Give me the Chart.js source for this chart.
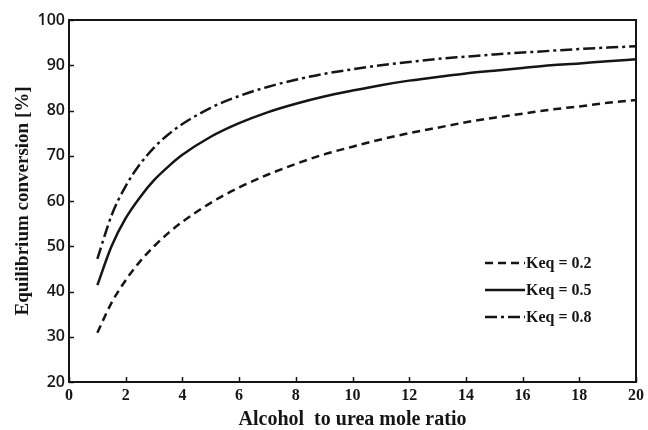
<!DOCTYPE html>
<html>
<head>
<meta charset="utf-8">
<script src="https://cdn.jsdelivr.net/npm/chart.js@4/dist/chart.umd.min.js"></script>
<style>
  html, body { margin: 0; padding: 0; background: #fff; }
  #wrap { width: 648px; height: 430px; }
</style>
</head>
<body>
<div id="wrap"><canvas id="c" width="648" height="430"></canvas></div>
<script>
// Alcohol-to-urea mole ratio (x) and equilibrium conversion in % (y)
const moleRatio = [1, 1.5, 2, 2.5, 3, 3.5, 4, 5, 6, 7, 8, 9, 10, 11, 12, 13, 14, 15, 16, 17, 18, 19, 20];
const convK02 = [30.9, 37.5, 42.5, 46.6, 50.0, 52.9, 55.4, 59.6, 63.0, 65.8, 68.2, 70.3, 72.0, 73.6, 75.0, 76.2, 77.4, 78.4, 79.3, 80.2, 80.9, 81.7, 82.3];
const convK05 = [41.4, 50.0, 56.2, 60.8, 64.6, 67.6, 70.2, 74.2, 77.2, 79.6, 81.5, 83.1, 84.4, 85.6, 86.6, 87.4, 88.2, 88.8, 89.4, 90.0, 90.4, 90.9, 91.3];
const convK08 = [47.2, 56.8, 63.3, 68.1, 71.8, 74.7, 77.0, 80.6, 83.2, 85.2, 86.8, 88.1, 89.1, 90.0, 90.7, 91.4, 91.9, 92.4, 92.8, 93.2, 93.6, 93.9, 94.2];
const seriesLabels = ['Keq = 0.2', 'Keq = 0.5', 'Keq = 0.8'];
const xTickValues = [0, 2, 4, 6, 8, 10, 12, 14, 16, 18, 20];
const yTickValues = [20, 30, 40, 50, 60, 70, 80, 90, 100];
const xTitle = 'Alcohol  to urea mole ratio';
const yTitle = 'Equilibrium conversion [%]';

const INK = '#151515';
const toPoints = (ys) => ys.map((y, i) => ({ x: moleRatio[i], y }));

// Inward tick marks on the bottom and left axes, plus the closed frame
const frameAndTicks = {
  id: 'frameAndTicks',
  afterDraw(chart) {
    const { ctx, chartArea: a, scales: { x, y } } = chart;
    ctx.save();
    ctx.strokeStyle = INK;
    ctx.lineWidth = 1.5;
    x.ticks.forEach(t => {
      const px = Math.round(x.getPixelForValue(t.value)) + 0.5;
      ctx.beginPath(); ctx.moveTo(px, a.bottom); ctx.lineTo(px, a.bottom - 5); ctx.stroke();
    });
    y.ticks.forEach(t => {
      const py = Math.round(y.getPixelForValue(t.value)) + 0.5;
      ctx.beginPath(); ctx.moveTo(a.left, py); ctx.lineTo(a.left + 5, py); ctx.stroke();
    });
    ctx.lineWidth = 2;
    ctx.strokeRect(a.left, a.top, a.right - a.left, a.bottom - a.top);
    ctx.restore();
  }
};

// Legend drawn inside the plot, lower right
const insideLegend = {
  id: 'insideLegend',
  afterDatasetsDraw(chart) {
    const { ctx, chartArea: a } = chart;
    const x0 = a.right - 151, y0 = a.top + 243, step = 27;
    chart.data.datasets.forEach((ds, i) => {
      const yy = y0 + i * step;
      ctx.save();
      ctx.strokeStyle = ds.borderColor;
      ctx.lineWidth = ds.borderWidth;
      ctx.setLineDash(ds.borderDash || []);
      ctx.beginPath(); ctx.moveTo(x0, yy); ctx.lineTo(x0 + 40, yy); ctx.stroke();
      ctx.setLineDash([]);
      ctx.fillStyle = INK;
      ctx.font = 'bold 16px "Liberation Serif"';
      ctx.textBaseline = 'middle';
      ctx.textAlign = 'left';
      ctx.fillText(ds.label, x0 + 41, yy + 1);
      ctx.restore();
    });
  }
};

const lineStyle = { borderColor: INK, borderWidth: 2.5, pointRadius: 0, fill: false, cubicInterpolationMode: 'monotone' };

new Chart(document.getElementById('c'), {
  type: 'line',
  data: {
    datasets: [
      { ...lineStyle, label: seriesLabels[0], data: toPoints(convK02), borderDash: [8, 5] },
      { ...lineStyle, label: seriesLabels[1], data: toPoints(convK05), borderDash: [] },
      { ...lineStyle, label: seriesLabels[2], data: toPoints(convK08), borderDash: [12, 4, 3, 4] }
    ]
  },
  options: {
    responsive: false,
    animation: false,
    devicePixelRatio: 1,
    layout: { padding: { top: 20, right: 10, left: 0, bottom: 0 } },
    plugins: { legend: { display: false }, tooltip: { enabled: false } },
    scales: {
      x: {
        type: 'linear', min: 0, max: 20,
        afterBuildTicks: (s) => { s.ticks = xTickValues.map(v => ({ value: v })); },
        afterFit: (s) => { s.height = 48; },
        grid: { display: false, drawTicks: false },
        border: { display: false },
        ticks: { color: INK, padding: 4, maxRotation: 0, autoSkip: false,
                 font: { family: '"Liberation Serif"', size: 16, weight: 'bold' } },
        title: { display: true, text: xTitle, color: INK, padding: { top: 1, bottom: 0 },
                 font: { family: '"Liberation Serif"', size: 20, weight: 'bold', lineHeight: 1 } }
      },
      y: {
        type: 'linear', min: 20, max: 100,
        afterBuildTicks: (s) => { s.ticks = yTickValues.map(v => ({ value: v })); },
        afterFit: (s) => { s.width = 69; },
        grid: { display: false, drawTicks: false },
        border: { display: false },
        ticks: { color: INK, padding: 4, autoSkip: false,
                 font: { family: '"Open Sans"', size: 16, weight: '600' } },
        title: { display: true, text: yTitle, color: INK, padding: { top: 14, bottom: 0 },
                 font: { family: '"Liberation Serif"', size: 19, weight: 'bold', lineHeight: 1 } }
      }
    }
  },
  plugins: [frameAndTicks, insideLegend]
});
</script>
</body>
</html>
